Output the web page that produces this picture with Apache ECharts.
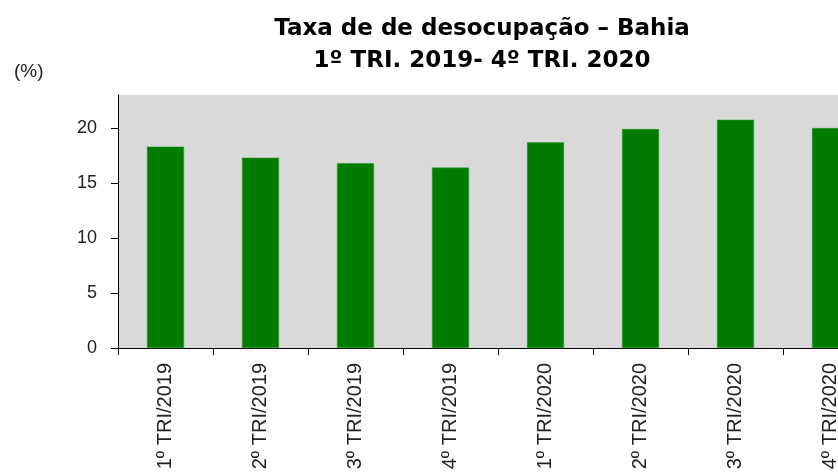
<!DOCTYPE html>
<html>
<head>
<meta charset="utf-8">
<script src="https://cdn.jsdelivr.net/npm/echarts@6/dist/echarts.min.js"></script>
<style>
  html, body { margin: 0; padding: 0; background: #fff; }
  #chart { width: 838px; height: 474px; }
</style>
</head>
<body>
<div id="chart"></div>
<script>
var categories = ['1º TRI/2019', '2º TRI/2019', '3º TRI/2019', '4º TRI/2019',
                  '1º TRI/2020', '2º TRI/2020', '3º TRI/2020', '4º TRI/2020'];
var taxa = [18.3, 17.3, 16.8, 16.4, 18.7, 19.9, 20.75, 20.0];
var yTicks = [0, 5, 10, 15, 20];

(function() {
  var chart = echarts.init(document.getElementById('chart'), null, { renderer: 'canvas' });
  var font = 'Liberation Sans, Arial, sans-serif';

  chart.setOption({
    animation: false,
    title: [
      {
        text: 'Taxa de de desocupação – Bahia\n1º TRI. 2019- 4º TRI. 2020',
        left: 477,
        top: 8,
        textAlign: 'center',
        textStyle: {
          fontFamily: 'DejaVu Sans, sans-serif',
          fontSize: 23,
          fontWeight: 'bold',
          color: '#000',
          lineHeight: 32
        }
      },
      {
        text: '(%)',
        left: 9,
        top: 57,
        textStyle: { fontFamily: font, fontSize: 19, fontWeight: 'normal', color: '#222' }
      }
    ],
    grid: {
      left: 118,
      top: 95,
      width: 760,
      bottom: 126,
      show: true,
      backgroundColor: '#d9d9d9',
      borderWidth: 0,
      containLabel: false,
      outerBoundsMode: 'none'
    },
    xAxis: {
      type: 'category',
      data: categories,
      axisLine: { lineStyle: { color: '#000', width: 1 } },
      axisTick: { show: true, length: 7, lineStyle: { color: '#000' } },
      axisLabel: {
        rotate: 90,
        interval: 0,
        margin: 15,
        fontFamily: font,
        fontSize: 20,
        color: '#222'
      },
      splitLine: { show: false }
    },
    yAxis: {
      type: 'value',
      min: 0,
      max: 23,
      interval: 5,
      axisLine: { show: true, lineStyle: { color: '#000', width: 1 } },
      axisTick: { show: true, length: 7, lineStyle: { color: '#000' } },
      axisLabel: {
        margin: 21,
        fontFamily: font,
        fontSize: 18,
        color: '#222',
        showMaxLabel: false,
        formatter: function(v) { return yTicks.indexOf(v) >= 0 ? String(v) : ''; }
      },
      splitLine: { show: false }
    },
    series: [{
      type: 'bar',
      data: taxa,
      barWidth: 37,
      itemStyle: { color: '#007d00', borderColor: '#2a9a2a', borderWidth: 0.5 }
    }]
  });
})();
</script>
</body>
</html>
